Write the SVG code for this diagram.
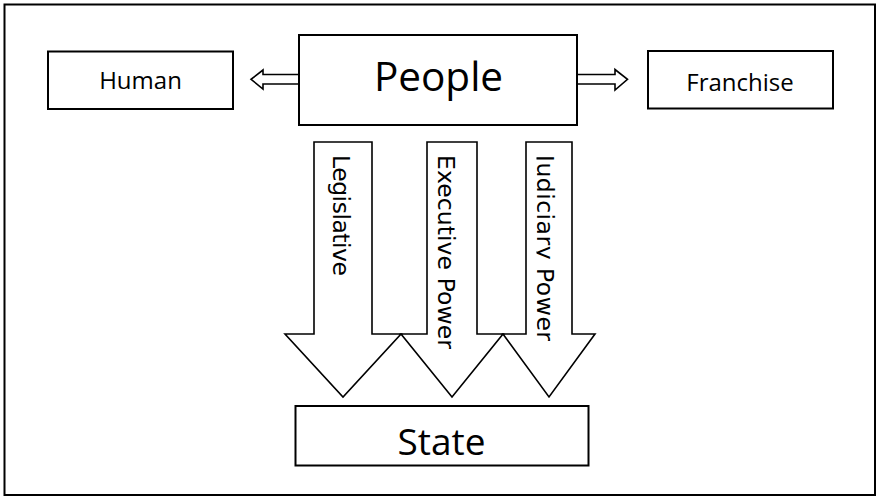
<svg xmlns="http://www.w3.org/2000/svg" width="877" height="497" viewBox="0 0 877 497">
<style>
.box{fill:#fff;stroke:#000;stroke-width:2}
.arr{fill:#fff;stroke:#000;stroke-width:1.6;stroke-linejoin:miter}
.lbl{font-family:"Open Sans","Liberation Sans",sans-serif;fill:#000;text-anchor:middle}
.vt{font-family:"DejaVu Sans","Liberation Sans",sans-serif;font-size:23.5px;fill:#000}
</style>
<defs>
<clipPath id="jclip"><rect x="536.5" y="150" width="40" height="210"/></clipPath>
</defs>
<rect x="0" y="0" width="877" height="497" fill="#fff"/>
<rect id="frame" x="4.5" y="4.5" width="870.5" height="490.5" fill="none" stroke="#000" stroke-width="2"/>
<g id="connectors">
<polygon class="arr" points="299,74.5 263,74.5 263,70 251,79.3 263,89 263,84 299,84"/>
<polygon class="arr" points="577,74.5 615,74.5 615,69.5 627.5,79.3 615,90 615,84 577,84"/>
<g id="legislative">
<polygon class="arr" points="314,142 372,142 372,334 401,334 343,397 285,334 314,334"/>
<text class="vt" transform="translate(333,155) rotate(90)" textLength="121" lengthAdjust="spacing">Legislative</text>
</g>
<g id="executive">
<polygon class="arr" points="427,142 477,142 477,334 503,334 452,397 401,334 427,334"/>
<text class="vt" transform="translate(438,155) rotate(90)" textLength="194" lengthAdjust="spacing">Executive Power</text>
</g>
<g id="judiciary">
<polygon class="arr" points="526,142 572,142 572,334 595,334 549,397 503,334 526,334"/>
<g clip-path="url(#jclip)"><text class="vt" transform="translate(536.5,155) rotate(90)" textLength="186" lengthAdjust="spacing">Judiciary Power</text></g>
</g>
</g>
<g id="people">
<rect class="box" x="299" y="35" width="278" height="90"/>
<text class="lbl" x="438.5" y="91" font-size="40.5">People</text>
</g>
<g id="human">
<rect class="box" x="48" y="51.5" width="185" height="57.5"/>
<text class="lbl" x="140.5" y="89" font-size="24">Human</text>
</g>
<g id="franchise">
<rect class="box" x="648" y="51" width="185" height="57.5"/>
<text class="lbl" x="740" y="90.5" font-size="24">Franchise</text>
</g>
<g id="state">
<rect class="box" x="295.5" y="406" width="293" height="59.5"/>
<text class="lbl" x="441.5" y="455" font-size="37">State</text>
</g>
</svg>
